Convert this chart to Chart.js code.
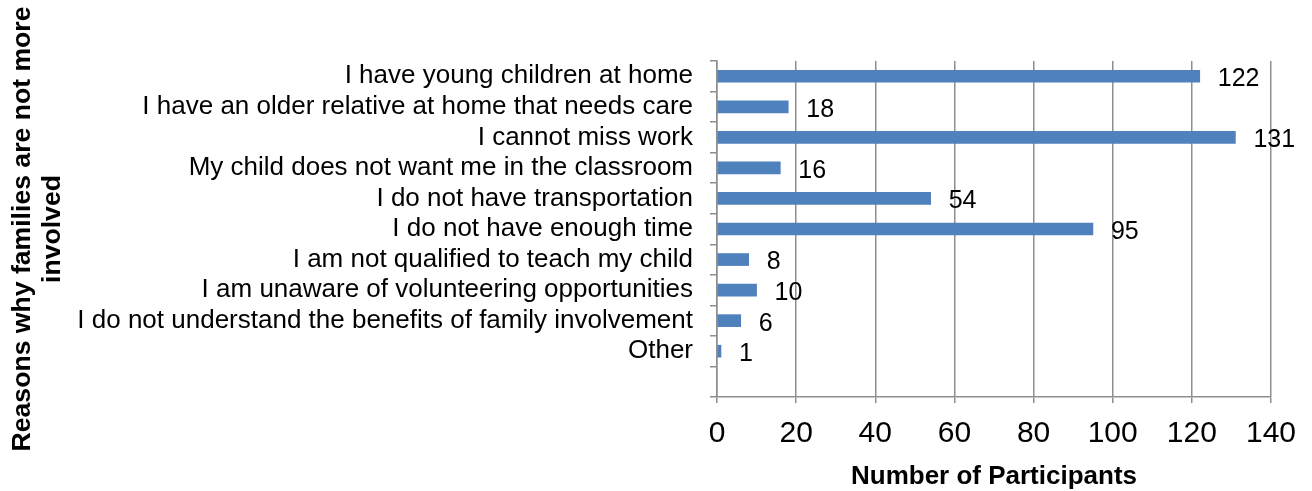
<!DOCTYPE html>
<html>
<head>
<meta charset="utf-8">
<script src="https://cdn.jsdelivr.net/npm/chart.js@4/dist/chart.umd.min.js"></script>
<style>
  body { margin: 0; background: #fff; }
  #wrap { width: 1312px; height: 491px; }
</style>
</head>
<body>
<div id="wrap"><canvas id="MyChart"></canvas></div>
<script>
// categories, top to bottom (last slot is left empty like the original)
const reasons = [
  'I have young children at home',
  'I have an older relative at home that needs care',
  'I cannot miss work',
  'My child does not want me in the classroom',
  'I do not have transportation',
  'I do not have enough time',
  'I am not qualified to teach my child',
  'I am unaware of volunteering opportunities',
  'I do not understand the benefits of family involvement',
  'Other',
  ''
]
const participants = [122, 18, 131, 16, 54, 95, 8, 10, 6, 1, null]
const xTicks = [0, 20, 40, 60, 80, 100, 120, 140]

const FONT = '"Liberation Sans", Arial, sans-serif'
const GRID = '#8e8e8e'

// draw the value next to each bar
const valueLabels = {
  id: 'valueLabels',
  afterDatasetsDraw(chart) {
    const ctx = chart.ctx
    const meta = chart.getDatasetMeta(0)
    ctx.save()
    ctx.font = '25px ' + FONT
    ctx.fillStyle = '#000'
    ctx.textAlign = 'left'
    ctx.textBaseline = 'middle'
    meta.data.forEach((bar, i) => {
      const v = participants[i]
      if (v === null) return
      ctx.fillText(String(v), bar.x + 18, bar.y + 3)
    })
    ctx.restore()
  }
}

const data = {
  labels: reasons,
  datasets: [{
    data: participants,
    backgroundColor: '#4F81BD',
    borderWidth: 0,
    barThickness: 12
  }]
}

const config = {
  type: 'bar',
  data: data,
  options: {
    indexAxis: 'y',
    responsive: true,
    maintainAspectRatio: false,
    animation: false,
    layout: { padding: { top: 61, right: 41, left: 0, bottom: 0 } },
    plugins: {
      legend: { display: false },
      tooltip: { enabled: false }
    },
    scales: {
      x: {
        min: 0,
        max: 140,
        afterBuildTicks: (scale) => { scale.ticks = xTicks.map(v => ({ value: v })) },
        afterFit: (scale) => { scale.height = 94 },
        grid: { color: GRID, lineWidth: 1.5, tickLength: 6 },
        border: { color: GRID, width: 1.5 },
        ticks: {
          autoSkip: false,
          maxRotation: 0,
          padding: 14,
          color: '#000',
          font: { family: FONT, size: 30, lineHeight: 1.1 }
        },
        title: {
          display: true,
          text: 'Number of Participants',
          color: '#000',
          padding: { top: 0, bottom: 0 },
          font: { family: FONT, size: 26, weight: 'bold', lineHeight: 1.1 }
        }
      },
      y: {
        afterFit: (scale) => { scale.width = 717 },
        grid: { drawOnChartArea: false, offset: true, color: GRID, lineWidth: 1.5, tickLength: 7 },
        border: { color: GRID, width: 1.5 },
        ticks: {
          autoSkip: false,
          padding: 17,
          color: '#000',
          font: { family: FONT, size: 26, lineHeight: 1.0 }
        },
        title: {
          display: true,
          text: ['Reasons why families are not more', 'involved'],
          color: '#000',
          padding: { top: 8, bottom: 0 },
          font: { family: FONT, size: 26.6, weight: 'bold', lineHeight: 1.13 }
        }
      }
    }
  },
  plugins: [valueLabels]
}

new Chart(document.getElementById('MyChart'), config)
</script>
</body>
</html>
